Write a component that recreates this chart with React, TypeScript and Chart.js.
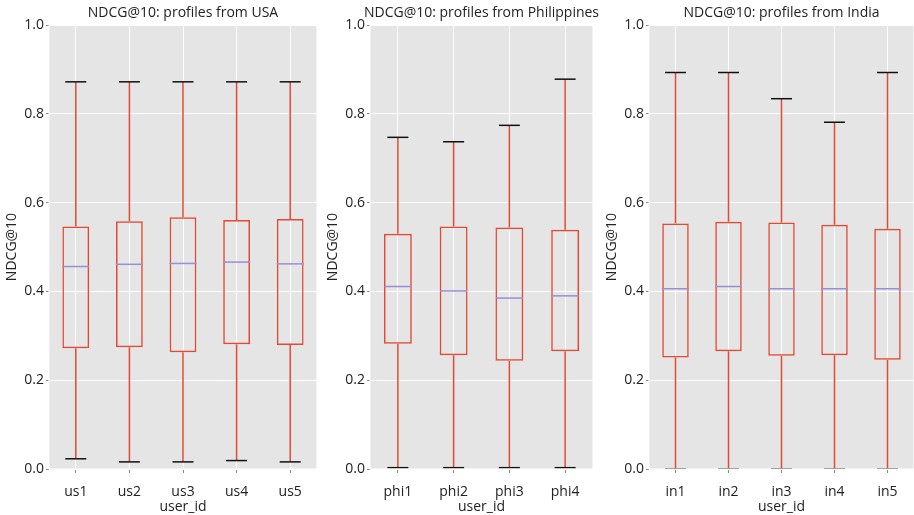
import React, { useEffect, useRef } from "react";
import { Chart, registerables } from "chart.js";

Chart.register(...registerables);

// ---- data ----
const usLabels = ["us1", "us2", "us3", "us4", "us5"];
const usMin = [0.023, 0.016, 0.016, 0.019, 0.016];
const usQ1 = [0.272, 0.274, 0.263, 0.281, 0.279];
const usMed = [0.456, 0.461, 0.463, 0.466, 0.462];
const usQ3 = [0.546, 0.558, 0.567, 0.561, 0.563];
const usMax = [0.872, 0.872, 0.872, 0.872, 0.872];

const phiLabels = ["phi1", "phi2", "phi3", "phi4"];
const phiMin = [0.003, 0.003, 0.003, 0.003];
const phiQ1 = [0.282, 0.256, 0.244, 0.265];
const phiMed = [0.411, 0.401, 0.385, 0.39];
const phiQ3 = [0.53, 0.546, 0.544, 0.539];
const phiMax = [0.747, 0.737, 0.774, 0.878];

const inLabels = ["in1", "in2", "in3", "in4", "in5"];
const inMin = [0, 0, 0, 0, 0];
const inQ1 = [0.251, 0.265, 0.255, 0.256, 0.246];
const inMed = [0.406, 0.411, 0.406, 0.406, 0.406];
const inQ3 = [0.553, 0.557, 0.555, 0.55, 0.541];
const inMax = [0.893, 0.893, 0.834, 0.781, 0.893];

const yTicks = [0, 0.2, 0.4, 0.6, 0.8, 1.0];

const BOX = "#E24A33";
const MED = "#988ED5";
const FONT = "'Open Sans', 'Noto Sans', sans-serif";
const TEXT = "#222";

const bgPlugin = {
  id: "panelBg",
  afterLayout(chart: any) {
    // let the title overflow the plot width symmetrically (as matplotlib does)
    const tb = chart.titleBlock;
    if (tb) {
      tb.left -= 60;
      tb.right += 60;
      tb.width += 120;
    }
  },
  beforeDraw(chart: any) {
    const { ctx, chartArea } = chart;
    ctx.save();
    ctx.fillStyle = "#E5E5E5";
    ctx.fillRect(chartArea.left, chartArea.top, chartArea.right - chartArea.left, chartArea.bottom - chartArea.top);
    ctx.restore();
  },
  afterDatasetsDraw(chart: any) {
    // white spines (ggplot style) drawn above the data
    const { ctx, chartArea } = chart;
    ctx.save();
    ctx.strokeStyle = "#FFFFFF";
    ctx.lineWidth = 1;
    ctx.strokeRect(chartArea.left, chartArea.top, chartArea.right - chartArea.left, chartArea.bottom - chartArea.top);
    ctx.restore();
  },
};

type PanelProps = {
  title: string;
  labels: string[];
  mins: number[];
  q1: number[];
  med: number[];
  q3: number[];
  maxs: number[];
  left: number;
  width: number;
  rightPad: number;
};

function whiskerPoints(labels: string[], lo: number[], hi: number[]) {
  const pts: any[] = [];
  labels.forEach((l, i) => {
    pts.push({ x: l, y: lo[i] });
    pts.push({ x: l, y: hi[i] });
    pts.push({ x: l, y: null });
  });
  return pts;
}

function Panel(p: PanelProps) {
  const ref = useRef<HTMLCanvasElement | null>(null);
  useEffect(() => {
    if (!ref.current) return;
    const whisker = (lo: number[], hi: number[], order: number) =>
      ({
        type: "line",
        data: whiskerPoints(p.labels, lo, hi),
        borderColor: BOX,
        borderWidth: 1.5,
        pointRadius: 0,
        spanGaps: false,
        fill: false,
        order,
      } as any);
    const cap = (vals: number[]) =>
      ({
        type: "line",
        data: vals,
        showLine: false,
        pointStyle: "line",
        pointRadius: 10.5,
        pointBorderWidth: 1.5,
        pointBorderColor: "#111",
        borderColor: "#111",
        order: 1,
      } as any);
    const chart = new Chart(ref.current, {
      type: "bar",
      data: {
        labels: p.labels,
        datasets: [
          whisker(p.mins, p.q1, 5),
          whisker(p.q3, p.maxs, 4),
          {
            type: "bar",
            data: p.q1.map((v, i) => [v, p.q3[i]]) as any,
            backgroundColor: "rgba(0,0,0,0)",
            borderColor: BOX,
            borderWidth: 1.5,
            borderSkipped: false,
            barPercentage: 0.5,
            categoryPercentage: 1,
            grouped: false,
            order: 3,
          } as any,
          {
            type: "line",
            data: p.med,
            showLine: false,
            pointStyle: "line",
            pointRadius: 13.5,
            pointBorderWidth: 1.5,
            pointBorderColor: MED,
            borderColor: MED,
            order: 2,
          } as any,
          cap(p.maxs),
          cap(p.mins),
        ],
      },
      options: {
        responsive: false,
        animation: false,
        devicePixelRatio: 1,
        events: [],
        layout: { padding: { left: 0, right: p.rightPad, top: 0, bottom: 0 } },
        plugins: {
          legend: { display: false },
          tooltip: { enabled: false },
          title: {
            display: true,
            text: p.title,
            color: TEXT,
            fullSize: false,
            font: { family: FONT, size: 14, weight: "normal" },
            padding: { top: 5, bottom: 3.2 },
          },
        },
        scales: {
          x: {
            type: "category",
            offset: true,
            grid: {
              offset: false,
              color: "#FFFFFF",
              lineWidth: 1,
              tickColor: "#888",
              tickLength: 4,
              drawTicks: true,
            },
            border: { display: false },
            ticks: {
              color: TEXT,
              padding: 11,
              font: { family: FONT, size: 14 },
            },
            title: {
              display: true,
              text: "user_id",
              color: TEXT,
              font: { family: FONT, size: 14 },
              padding: { top: 0, bottom: 0 },
            },
            afterFit(scale: any) {
              scale.height = 46;
            },
          },
          y: {
            type: "linear",
            min: 0,
            max: 1,
            grid: {
              color: "#FFFFFF",
              lineWidth: 1,
              tickColor: "#888",
              tickLength: 3,
            },
            border: { display: false },
            afterBuildTicks(scale: any) {
              scale.ticks = yTicks.map((v) => ({ value: v }));
            },
            ticks: {
              color: TEXT,
              padding: 2,
              font: { family: FONT, size: 14 },
              callback: (v: any) => Number(v).toFixed(1),
            },
            title: {
              display: true,
              text: "NDCG@10",
              color: TEXT,
              font: { family: FONT, size: 14 },
              padding: { top: 3.6, bottom: 0 },
            },
            afterFit(scale: any) {
              scale.width = 49;
            },
          },
        },
      } as any,
      plugins: [bgPlugin],
    });
    return () => chart.destroy();
  }, []);
  return (
    <canvas
      ref={ref}
      width={p.width}
      height={515}
      style={{ position: "absolute", left: p.left, top: 0, width: p.width, height: 515 }}
    />
  );
}

export default function App() {
  return (
    <div
      style={{
        position: "absolute",
        left: 0,
        top: 0,
        width: 914,
        height: 515,
        overflow: "hidden",
        background: "#FFFFFF",
      }}
    >
      <Panel
        title="NDCG@10: profiles from USA"
        labels={usLabels}
        mins={usMin}
        q1={usQ1}
        med={usMed}
        q3={usQ3}
        maxs={usMax}
        left={0}
        width={366}
        rightPad={49}
      />
      <Panel
        title="NDCG@10: profiles from Philippines"
        labels={phiLabels}
        mins={phiMin}
        q1={phiQ1}
        med={phiMed}
        q3={phiQ3}
        maxs={phiMax}
        left={321}
        width={321}
        rightPad={49}
      />
      <Panel
        title="NDCG@10: profiles from India"
        labels={inLabels}
        mins={inMin}
        q1={inQ1}
        med={inMed}
        q3={inQ3}
        maxs={inMax}
        left={600}
        width={363}
        rightPad={49}
      />
    </div>
  );
}
